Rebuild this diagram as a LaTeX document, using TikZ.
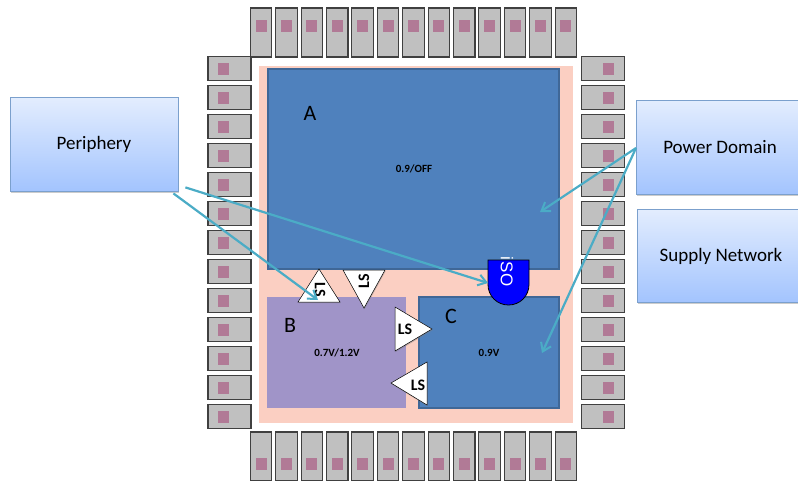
\documentclass[tikz,border=0pt]{standalone}
\usepackage{fontspec}
\setmainfont{Carlito}
\newfontfamily\isofont{Liberation Sans}
\usetikzlibrary{arrows.meta,shadows,fadings}
\definecolor{padgrey}{HTML}{C0C0C0}
\definecolor{padline}{HTML}{404040}
\definecolor{padcore}{HTML}{B17A96}
\definecolor{ringpink}{HTML}{FBCFC2}
\definecolor{dblue}{HTML}{4F81BD}
\definecolor{dblueline}{HTML}{3F6797}
\definecolor{dpurple}{HTML}{A094C8}
\definecolor{teal}{HTML}{4BACC6}
\definecolor{boxtop}{HTML}{E3EDFE}
\definecolor{boxbot}{HTML}{A3C4FE}
\definecolor{boxline}{HTML}{7BA0CD}
\tikzset{
  x=1pt,y=-1pt,
  pad/.style={draw=padline,fill=padgrey,line width=1.1pt,inner sep=0pt,outer sep=0pt},
  vpad/.style={pad,minimum width=21.5pt,minimum height=49pt},
  hpad/.style={pad,minimum width=43pt,minimum height=24.5pt},
  core/.style={fill=padcore,inner sep=0pt,minimum width=11pt,minimum height=12pt},
  dom/.style={fill=dblue,draw=dblueline,line width=1.4pt},
  lsshape/.style={draw=black,line width=.5pt,fill=white,drop shadow={shadow xshift=.6pt,shadow yshift=-1.2pt,opacity=.45}},
  lstext/.style={inner sep=0pt,font=\fontsize{16}{16}\selectfont\bfseries},
  callout/.style={draw=boxline,line width=.8pt,top color=boxtop,bottom color=boxbot,inner sep=0pt,
    drop shadow={shadow xshift=.6pt,shadow yshift=-1.6pt,opacity=.4},font=\fontsize{19}{22}\selectfont},
  domname/.style={inner sep=0pt,font=\fontsize{22}{24}\selectfont},
  volt/.style={inner sep=0pt,font=\fontsize{11}{12}\selectfont\bfseries},
  conn/.style={draw=teal,line width=2.2pt,-{Straight Barb[length=8pt,width=11pt,line width=2pt]}}
}
\begin{document}
\begin{tikzpicture}
\clip (0,0) rectangle (798,480);
\fill[white] (0,0) rectangle (798,480);
% pad ring
\foreach \i in {0,...,12}{
  \pgfmathsetmacro\px{261+25.4*\i}
  \pgfmathsetmacro\py{68.5+29*\i}
  \node[vpad] (top\i) at (\px,32.5) {};
  \node[core] (topc\i) at (\px,26) {};
  \node[vpad] (bot\i) at (\px,456.5) {};
  \node[core] (botc\i) at (\px,464) {};
  \node[hpad] (lft\i) at (229.5,\py) {};
  \node[core] (lftc\i) at (223.5,\py) {};
  \node[hpad] (rgt\i) at (603,\py) {};
  \node[core] (rgtc\i) at (608.5,\py) {};
}
% core area
\fill[ringpink] (259,66) rectangle (573,423);
\draw[dom] (268,69) rectangle (559,269);
\fill[dpurple] (267,297) rectangle (406,408);
\draw[dom] (419,297) rectangle (559,408);
\node[domname] (la) at (310,113) {A};
\node[domname] (lb) at (290,325) {B};
\node[domname] (lc) at (451,316) {C};
\node[volt] (va) at (414,169) {0.9/OFF};
\node[volt] (vb) at (337,353) {0.7V/1.2V};
\node[volt] (vc) at (489,353) {0.9V};
% level shifters
\draw[lsshape] (319,269) -- (340,302) -- (298,302) -- cycle;
\node[lstext,rotate=-90] (ls1) at (320,290) {LS};
\draw[lsshape] (343,270) -- (385,270) -- (364,308) -- cycle;
\node[lstext,rotate=90] (ls2) at (364,281) {LS};
\draw[lsshape] (395,307) -- (432,329) -- (395,351) -- cycle;
\node[lstext] (ls3) at (405,329) {LS};
\draw[lsshape] (427,362) -- (427,405) -- (391,383) -- cycle;
\node[lstext] (ls4) at (418,385) {LS};
% isolation cell
\draw[fill=blue,draw=black,line width=.8pt] (488,260) -- (529,260) -- (529,284.5)
  .. controls (529,296) and (520,305) .. (508.5,305)
  .. controls (497,305) and (488,296) .. (488,284.5) -- cycle;
\node[inner sep=0pt,text=white,rotate=-90,font=\isofont\fontsize{17}{17}\selectfont] (iso) at (507,271.5) {i\kern1.5pt S\kern.5pt O};
\coordinate (isoin) at (488,283);
% callouts
\node[callout,minimum width=168pt,minimum height=94pt] (periphery) at (94,144) {Periphery};
\path[callout,draw=boxline] (636,100) rectangle (810,194);
\node[inner sep=0pt,font=\fontsize{19}{22}\selectfont] (power) at (720,147.5) {Power Domain};
\coordinate (powerw) at (636,148);
\path[callout,draw=boxline] (637,209) rectangle (810,302);
\node[inner sep=0pt,font=\fontsize{19}{22}\selectfont] (supply) at (721,256) {Supply Network};
% connectors
\coordinate (tob) at (318,300);
\coordinate (toa) at (540,212);
\coordinate (toc) at (542,353);
\draw[conn] ([shift={(-5,2)}]periphery.south east) -- (tob);
\draw[conn] ([shift={(7,-4)}]periphery.south east) -- (isoin);
\draw[conn] (powerw) -- (toa);
\draw[conn] (powerw) -- (toc);
\end{tikzpicture}
\end{document}
